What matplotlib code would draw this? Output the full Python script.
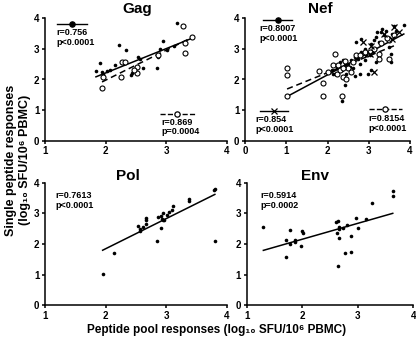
import numpy as np
import matplotlib
matplotlib.use("Agg")
import matplotlib.pyplot as plt

plt.rcParams['font.family'] = ['Liberation Sans', 'DejaVu Sans']
plt.rcParams['font.weight'] = 'bold'

# Gag
gag_fill_x = [1.84, 1.91, 1.94, 1.96, 2.03, 2.16, 2.22, 2.34, 2.43, 2.54, 2.62, 2.84, 2.87,
              2.94, 2.89, 3.01, 3.17, 3.12, 2.57, 2.07, 2.42]
gag_fill_y = [2.29, 2.55, 2.26, 2.18, 2.29, 2.47, 3.13, 2.96, 2.22, 2.75, 2.37, 2.37, 2.75,
              3.27, 2.99, 2.96, 3.86, 3.10, 2.66, 2.31, 2.15]
gag_open_x = [1.94, 1.96, 2.26, 2.27, 2.51, 2.51, 2.87, 3.28, 3.30, 3.30, 3.42, 2.46, 2.32]
gag_open_y = [1.71, 2.09, 2.09, 2.56, 2.42, 2.20, 2.80, 3.75, 3.20, 2.88, 3.38, 2.31, 2.58]

# Nef
nef_fill_x = [2.18, 2.30, 2.38, 2.46, 2.42, 2.34, 2.66, 2.78, 2.70, 2.82, 2.98, 3.02, 3.10,
              3.17, 3.53, 3.53, 3.49, 3.37, 3.21, 3.33, 3.61, 3.85, 2.10, 2.14, 2.22, 2.30,
              2.34, 2.42, 2.50, 2.54, 2.58, 2.66, 2.74, 2.82, 2.90, 2.94, 3.06, 3.13, 3.17,
              3.25, 3.29, 3.41, 3.49, 3.57, 3.65, 2.90, 3.06, 2.62, 2.78]
nef_fill_y = [2.19, 2.57, 2.63, 2.19, 1.82, 1.30, 2.12, 2.19, 3.22, 3.33, 2.19, 2.79, 2.90,
              2.57, 2.84, 2.57, 3.06, 3.44, 3.55, 3.65, 3.76, 3.78, 2.30, 2.19, 2.36, 2.41,
              2.30, 2.46, 2.52, 2.41, 2.63, 2.74, 2.68, 2.90, 3.01, 2.79, 3.17, 3.28, 3.38,
              3.22, 3.55, 3.60, 3.33, 3.49, 3.60, 2.63, 2.30, 2.36, 2.52]
nef_open_x = [1.02, 1.02, 1.02, 1.90, 1.90, 1.79, 2.18, 2.14, 2.34, 2.26, 2.42, 2.50, 2.62,
              2.38, 2.46, 2.70, 3.25, 3.25, 3.49, 3.13, 3.29, 3.49, 3.61, 3.45, 2.22, 2.02,
              2.58, 2.78, 2.90, 3.02, 2.30, 2.38]
nef_open_y = [2.38, 2.16, 1.47, 1.47, 1.90, 2.27, 2.82, 2.49, 1.46, 2.46, 2.59, 2.36, 2.57,
              2.09, 2.03, 2.79, 2.84, 2.68, 2.68, 3.00, 3.20, 3.30, 3.45, 3.35, 2.19, 2.25,
              2.25, 2.79, 2.90, 2.90, 2.30, 2.36]
nef_x_x = [2.86, 3.06, 3.13, 3.61, 3.73, 3.37, 3.57, 3.02]
nef_x_y = [3.21, 3.10, 2.23, 3.70, 3.55, 3.49, 3.33, 2.84]

# Pol
pol_x = [1.95, 2.14, 2.85, 2.92, 2.54, 2.57, 2.62, 2.67, 2.67, 2.67, 2.87, 2.91, 2.95, 2.93,
         2.96, 3.01, 3.04, 3.09, 3.11, 3.37, 3.37, 3.78, 3.80, 3.80, 2.57, 2.94]
pol_y = [1.01, 1.70, 2.10, 2.51, 2.59, 2.48, 2.54, 2.66, 2.84, 2.77, 2.87, 2.92, 3.01, 2.81,
         2.79, 2.95, 3.06, 3.12, 3.25, 3.48, 3.41, 3.75, 3.79, 2.11, 2.43, 2.77]

# Env
env_x = [1.30, 1.70, 1.78, 1.70, 1.78, 1.87, 1.87, 1.97, 2.00, 2.02, 2.61, 2.65, 2.63, 2.67,
         2.67, 2.67, 2.73, 2.80, 2.87, 2.77, 2.87, 2.65, 2.96, 3.00, 3.15, 3.25, 3.63, 3.63]
env_y = [2.56, 2.13, 2.46, 1.59, 2.00, 2.13, 2.05, 1.94, 2.42, 2.37, 2.73, 2.75, 2.37, 2.56,
         2.48, 2.19, 2.53, 2.62, 2.26, 1.70, 1.75, 1.28, 2.86, 2.53, 2.81, 3.33, 3.74, 3.57]

W, H = 416, 338
fig = plt.figure(figsize=(W / 100, H / 100), dpi=100)


def make_ax(l, t, r, b):
    ax = fig.add_axes([l / W, 1 - b / H, (r - l) / W, (b - t) / H])
    ax.spines['top'].set_visible(False)
    ax.spines['right'].set_visible(False)
    for s in ['left', 'bottom']:
        ax.spines[s].set_linewidth(1.1)
    ax.tick_params(direction='out', length=2.5, width=1.1, labelsize=7, pad=1.5)
    ax.set_ylim(0, 4)
    ax.set_yticks([0, 1, 2, 3, 4])
    return ax


def fit(ax, x, y, ls):
    x = np.asarray(x)
    y = np.asarray(y)
    k, b = np.polyfit(x, y, 1)
    xs = np.array([x.min(), x.max()])
    if ls == '--':
        ax.plot(xs, k * xs + b, color='black', lw=1.1, ls='--', dashes=(4, 2.5), zorder=3)
    else:
        ax.plot(xs, k * xs + b, color='black', lw=1.1, zorder=3)


def fill(ax, x, y):
    ax.plot(x, y, 'o', color='black', ms=2.6, mew=0, clip_on=False, zorder=4)


def hollow(ax, x, y):
    ax.plot(x, y, 'o', mfc='white', mec='black', ms=3.6, mew=0.8, clip_on=False, zorder=4)


def key(ax, x0, x1, y, marker, ls, mfc):
    ax.plot([x0, x1], [y, y], color='black', lw=1.0, ls=ls, transform=ax.transAxes, clip_on=False)
    ax.plot([(x0 + x1) / 2], [y], marker=marker, color='black', mfc=mfc, mec='black',
            ms=3.8, mew=0.9, transform=ax.transAxes, clip_on=False)


def stat(ax, x, y, txt):
    ax.text(x, y, txt, transform=ax.transAxes, fontsize=6.5, fontweight='bold',
            va='top', ha='left', linespacing=1.1)


# Gag
ax = make_ax(45, 18.3, 227, 140.7)
ax.set_xlim(1, 4)
ax.set_xticks([1, 2, 3, 4])
fill(ax, gag_fill_x, gag_fill_y)
hollow(ax, gag_open_x, gag_open_y)
fit(ax, gag_fill_x + gag_open_x, gag_fill_y + gag_open_y, '-')
fit(ax, gag_open_x, gag_open_y, '--')
key(ax, 0.066, 0.23, 0.955, 'o', '-', 'black')
stat(ax, 0.064, 0.92, 'r=0.756\np<0.0001')
key(ax, 0.632, 0.824, 0.218, 'o', '--', 'white')
stat(ax, 0.637, 0.188, 'r=0.869\np=0.0004')
ax.set_title('Gag', fontsize=11, fontweight='bold', x=0.504, pad=4)

# Nef
ax = make_ax(245, 18.3, 410, 140.7)
ax.set_xlim(0, 4)
ax.set_xticks([0, 1, 2, 3, 4])
fill(ax, nef_fill_x, nef_fill_y)
hollow(ax, nef_open_x, nef_open_y)
ax.plot(nef_x_x, nef_x_y, 'x', color='black', ms=3.8, mew=0.9, zorder=4)
fit(ax, nef_fill_x + nef_open_x + nef_x_x, nef_fill_y + nef_open_y + nef_x_y, '-')
fit(ax, nef_open_x, nef_open_y, '--')
key(ax, 0.11, 0.285, 0.99, 'o', '-', 'black')
stat(ax, 0.09, 0.95, 'r=0.8007\np<0.0001')
key(ax, 0.09, 0.263, 0.243, 'x', '-', 'black')
stat(ax, 0.065, 0.21, 'r=0.854\np<0.0001')
key(ax, 0.75, 0.95, 0.256, 'o', '--', 'white')
stat(ax, 0.745, 0.218, 'r=0.8154\np<0.0001')
ax.set_title('Nef', fontsize=11, fontweight='bold', x=0.455, pad=4)

# Pol
ax = make_ax(45, 182.7, 227, 305.3)
ax.set_xlim(1, 4)
ax.set_xticks([1, 2, 3, 4])
fill(ax, pol_x, pol_y)
fit(ax, pol_x, pol_y, '-')
stat(ax, 0.055, 0.93, 'r=0.7613\np<0.0001')
ax.set_title('Pol', fontsize=11, fontweight='bold', x=0.458, pad=1.5)

# Env
ax = make_ax(246.7, 182.7, 413.3, 305.3)
ax.set_xlim(1, 4)
ax.set_xticks([1, 2, 3, 4])
fill(ax, env_x, env_y)
fit(ax, env_x, env_y, '-')
stat(ax, 0.084, 0.93, 'r=0.5914\np=0.0002')
ax.set_title('Env', fontsize=11, fontweight='bold', x=0.41, pad=1.5)

fig.text(217 / W, 1 - 333 / H, 'Peptide pool responses (log\u2081\u2080 SFU/10\u2076 PBMC)',
         ha='center', va='baseline', fontsize=8.5, fontweight='bold')
fig.text(18 / W, 1 - 160 / H, 'Single peptide responses\n(log\u2081\u2080 SFU/10\u2076 PBMC)',
         ha='center', va='center', rotation=90, fontsize=9, fontweight='bold', linespacing=1.15)

fig.savefig('out.png', dpi=100)
